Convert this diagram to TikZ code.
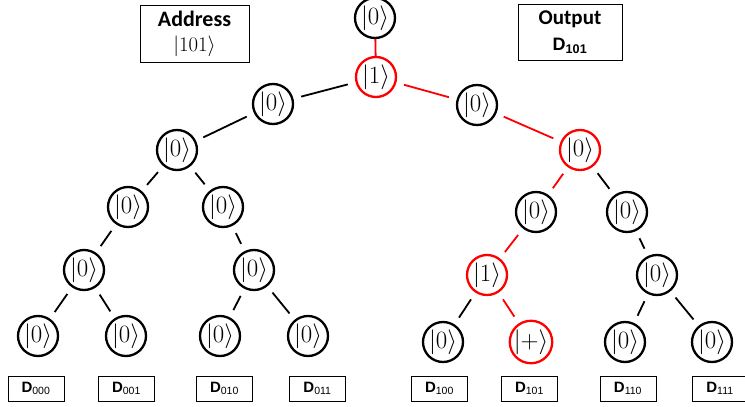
\documentclass[tikz,border=0pt]{standalone}
\usepackage{fontspec}
\setsansfont{Carlito}
\newfontfamily\arialf{Liberation Sans}
\begin{document}
\begin{tikzpicture}[x=1pt,y=-1pt,
  st/.style={circle,draw=black,line width=2.3pt,minimum size=40pt,inner sep=0pt,font=\fontsize{24}{24}\selectfont},
  hl/.style={draw=red},
  edge/.style={line width=1.8pt,shorten <=8pt,shorten >=8pt},
  redge/.style={edge,draw=red},
  dbox/.style={draw,line width=0.9pt,minimum width=56pt,minimum height=25pt,inner sep=0pt,font=\arialf\bfseries\fontsize{15}{15}\selectfont},
  infobox/.style={draw,line width=0.9pt,inner sep=0pt},
  plain/.style={inner sep=0pt}]
\useasboundingbox (0,0) rectangle (745,407);
% tree nodes
\node[st] (root) at (375,18) {$|0\rangle$};
\node[st,hl] (r1) at (376,77) {$|1\rangle$};
\node[st] (a) at (273,104) {$|0\rangle$};
\node[st] (b) at (477,105) {$|0\rangle$};
\node[st] (c) at (177,150) {$|0\rangle$};
\node[st,hl] (d) at (580,150) {$|0\rangle$};
\node[st] (e) at (128,207) {$|0\rangle$};
\node[st] (f) at (223,207) {$|0\rangle$};
\node[st] (g) at (536,212) {$|0\rangle$};
\node[st] (h) at (627,212) {$|0\rangle$};
\node[st] (i) at (84,270) {$|0\rangle$};
\node[st] (j) at (254,270) {$|0\rangle$};
\node[st,hl] (k) at (487,275) {$|1\rangle$};
\node[st] (l) at (657,275) {$|0\rangle$};
\node[st] (m0) at (38,336) {$|0\rangle$};
\node[st] (m1) at (126,336) {$|0\rangle$};
\node[st] (m2) at (220,336) {$|0\rangle$};
\node[st] (m3) at (308,336) {$|0\rangle$};
\node[st] (m4) at (443,342) {$|0\rangle$};
\node[st,hl] (m5) at (531,342) {$|+\rangle$};
\node[st] (m6) at (625,342) {$|0\rangle$};
\node[st] (m7) at (712,342) {$|0\rangle$};
% edges
\draw[line width=1.8pt,red] (root) -- (r1);
\draw[edge] (r1) -- (a);
\draw[redge] (r1) -- (b);
\draw[edge] (a) -- (c);
\draw[redge] (b) -- (d);
\draw[edge] (c) -- (e);
\draw[edge] (c) -- (f);
\draw[redge] (d) -- (g);
\draw[edge] (d) -- (h);
\draw[edge] (e) -- (i);
\draw[edge] (f) -- (j);
\draw[redge] (g) -- (k);
\draw[edge] (h) -- (l);
\draw[edge] (i) -- (m0);
\draw[edge] (i) -- (m1);
\draw[edge] (j) -- (m2);
\draw[edge] (j) -- (m3);
\draw[edge] (k) -- (m4);
\draw[redge] (k) -- (m5);
\draw[edge] (l) -- (m6);
\draw[edge] (l) -- (m7);
% data boxes
\node[dbox] (d0) at (36,388.5) {D\textsubscript{\mdseries 000}};
\node[dbox] (d1) at (126.5,388.5) {D\textsubscript{\mdseries 001}};
\node[dbox] (d2) at (224.5,388.5) {D\textsubscript{\mdseries 010}};
\node[dbox] (d3) at (317.5,388.5) {D\textsubscript{\mdseries 011}};
\node[dbox] (d4) at (439.5,388.5) {D\textsubscript{\mdseries 100}};
\node[dbox] (d5) at (529.5,388.5) {D\textsubscript{\mdseries 101}};
\node[dbox] (d6) at (628,388.5) {D\textsubscript{\mdseries 110}};
\node[dbox] (d7) at (720,388.5) {D\textsubscript{\mdseries 111}};
% info boxes
\node[infobox,minimum width=109pt,minimum height=57pt] (addr) at (194.5,33.5) {};
\node[plain,font=\sffamily\bfseries\fontsize{22}{22}\selectfont] (addrT) at (194.5,19) {Address};
\node[plain,font=\fontsize{20}{20}\selectfont] (addrV) at (194.5,46) {$|101\rangle$};
\node[infobox,minimum width=104pt,minimum height=56pt] (out) at (570,32) {};
\node[plain,font=\sffamily\bfseries\fontsize{21}{21}\selectfont] (outT) at (570,19) {Output};
\node[plain,font=\arialf\bfseries\fontsize{18}{18}\selectfont] (outV) at (570,46) {D\textsubscript{101}};
\end{tikzpicture}
\end{document}
